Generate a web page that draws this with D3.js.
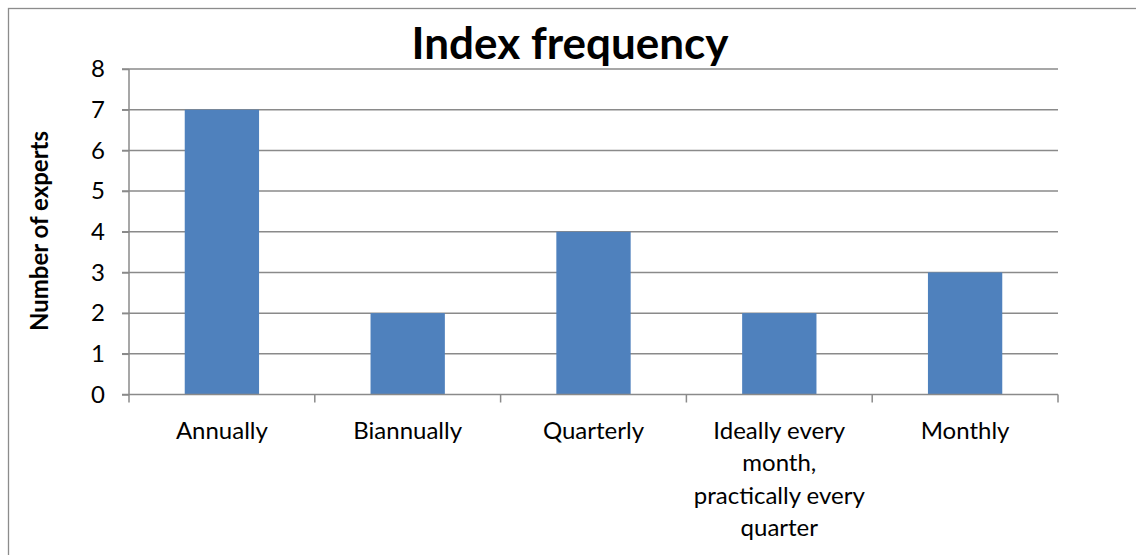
<!DOCTYPE html>
<html><head><meta charset="utf-8">
<script src="https://cdn.jsdelivr.net/npm/d3@7"></script>
<style>
html,body{margin:0;padding:0;background:#fff;}
svg{display:block;font-family:Lato, "Open Sans", sans-serif;}
</style></head>
<body>
<svg id="chart" width="1136" height="555"></svg>
<script>
const categories = ["Annually", "Biannually", "Quarterly", "Ideally every month, practically every quarter", "Monthly"];
const categoryLines = [["Annually"], ["Biannually"], ["Quarterly"], ["Ideally every", "month,", "practically every", "quarter"], ["Monthly"]];
const values = [7, 2, 4, 2, 3];
const yTicks = [0, 1, 2, 3, 4, 5, 6, 7, 8];
const title = "Index frequency";
const yTitle = "Number of experts";

const svg = d3.select("#chart");
const pLeft = 129, pRight = 1058, pTop = 69, pBottom = 394.5;

// chart border
svg.append("rect").attr("x", 8.5).attr("y", 8.5).attr("width", 1140).attr("height", 600)
  .attr("fill", "none").attr("stroke", "#8c8c8c").attr("stroke-width", 1.3);

const x = d3.scaleBand().domain(categories).range([pLeft, pRight]).paddingInner(0.6).paddingOuter(0.3);
const y = d3.scaleLinear().domain([0, 8]).range([pBottom, pTop]);

// gridlines
svg.append("g").selectAll("line").data(yTicks.filter(d => d > 0)).join("line")
  .attr("x1", pLeft - 7).attr("x2", pRight).attr("y1", d => y(d)).attr("y2", d => y(d))
  .attr("stroke", "#8a8a8a").attr("stroke-width", 1.5);

// bars
svg.append("g").selectAll("rect").data(values).join("rect")
  .attr("x", (d, i) => x(categories[i])).attr("width", x.bandwidth())
  .attr("y", d => y(d)).attr("height", d => y(0) - y(d))
  .attr("fill", "#4F81BD");

// y axis
const yAxis = d3.axisLeft(y).tickValues(yTicks).tickSize(7).tickPadding(17).tickFormat(d3.format("d"));
const gy = svg.append("g").attr("transform", `translate(${pLeft},0)`).call(yAxis);
gy.select(".domain").attr("stroke", "#8a8a8a").attr("stroke-width", 1.5).attr("d", `M0,${pTop}V${pBottom}`);
gy.selectAll(".tick line").attr("stroke", "#8a8a8a").attr("stroke-width", 1.5);
gy.selectAll(".tick text").attr("font-size", 24).attr("fill", "#000").attr("font-family", "Lato");

// x axis baseline with boundary ticks
const bounds = d3.range(categories.length + 1).map(i => pLeft + i * (pRight - pLeft) / categories.length);
const gx = svg.append("g");
gx.append("line").attr("x1", pLeft - 7).attr("x2", pRight).attr("y1", pBottom).attr("y2", pBottom)
  .attr("stroke", "#8a8a8a").attr("stroke-width", 1.5);
gx.selectAll("line.tk").data(bounds).join("line").attr("class", "tk")
  .attr("x1", d => d).attr("x2", d => d).attr("y1", pBottom).attr("y2", pBottom + 8)
  .attr("stroke", "#8a8a8a").attr("stroke-width", 1.5);

// x labels
categories.forEach((c, i) => {
  const cx = x(c) + x.bandwidth() / 2;
  const t = gx.append("text").attr("text-anchor", "middle").attr("font-size", 24).attr("fill", "#000");
  categoryLines[i].forEach((ln, j) => {
    t.append("tspan").attr("x", cx).attr("y", 439 + j * 32.3).text(ln);
  });
});

// title
svg.append("text").attr("x", 570).attr("y", 59).attr("text-anchor", "middle")
  .attr("font-size", 44).attr("font-weight", "bold").attr("fill", "#000").text(title);

// y title
svg.append("text").attr("transform", `translate(48,231) rotate(-90)`)
  .attr("text-anchor", "middle").attr("font-size", 24).attr("font-weight", "bold").attr("fill", "#000").text(yTitle);
</script>
</body></html>
